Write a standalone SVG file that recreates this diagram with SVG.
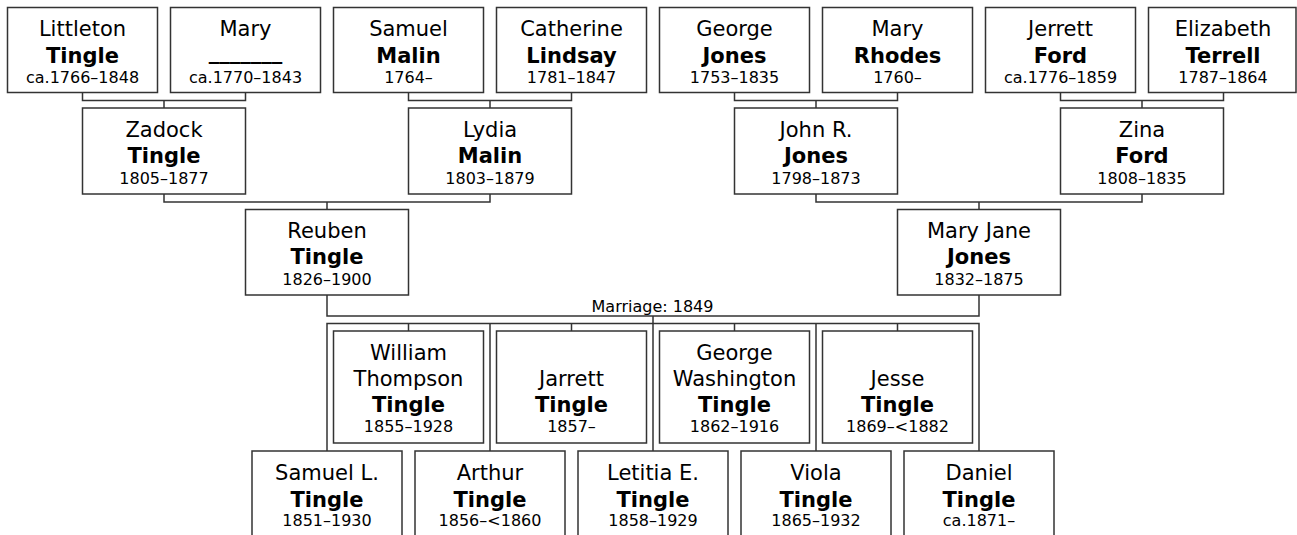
<svg xmlns="http://www.w3.org/2000/svg" width="1297" height="535" viewBox="0 0 1297 535">
<style>
.box{fill:#fff;stroke:#333;stroke-width:1.5}
.ln{fill:none;stroke:#333;stroke-width:1.5}
text{font-family:"DejaVu Sans","Verdana",sans-serif;fill:#000;text-anchor:middle}
.n{font-size:21px}
.s{font-size:21px;font-weight:bold}
.d{font-size:16px}
.m{font-size:16px}
</style>
<rect width="1297" height="535" fill="#fff"/>
<g id="connectors">
<path class="ln" d="M82.5 92.5V100.5H245.5V92.5M164 100.5V108"/>
<path class="ln" d="M408.5 92.5V100.5H571.5V92.5M490 100.5V108"/>
<path class="ln" d="M734.5 92.5V100.5H897.5V92.5M816 100.5V108"/>
<path class="ln" d="M1060.5 92.5V100.5H1223.5V92.5M1142 100.5V108"/>
<path class="ln" d="M164 194V202H490V194M327 202V209.5"/>
<path class="ln" d="M816 194V202H1142V194M979 202V209.5"/>
<path class="ln" d="M327 295V316H979V295M653 316V451"/>
<path class="ln" d="M327 451V323.5H979V451M490 323.5V451M816 323.5V451"/>
<path class="ln" d="M408.5 323.5V331M571.5 323.5V331M734.5 323.5V331M897.5 323.5V331"/>
<text class="m" x="652.5" y="311.5">Marriage: 1849</text>
</g>
<g id="littleton"><rect class="box" x="7.5" y="7.5" width="150" height="85"/><text class="n" x="82.5" y="36">Littleton</text><text class="s" x="82.5" y="62.5">Tingle</text><text class="d" x="82.5" y="82.5">ca.1766–1848</text></g>
<g id="mary"><rect class="box" x="170.5" y="7.5" width="150" height="85"/><text class="n" x="245.5" y="36">Mary</text><text class="s" x="245.5" y="59">_______</text><text class="d" x="245.5" y="82.5">ca.1770–1843</text></g>
<g id="samuel"><rect class="box" x="333.5" y="7.5" width="150" height="85"/><text class="n" x="408.5" y="36">Samuel</text><text class="s" x="408.5" y="62.5">Malin</text><text class="d" x="408.5" y="82.5">1764–</text></g>
<g id="catherine"><rect class="box" x="496.5" y="7.5" width="150" height="85"/><text class="n" x="571.5" y="36">Catherine</text><text class="s" x="571.5" y="62.5">Lindsay</text><text class="d" x="571.5" y="82.5">1781–1847</text></g>
<g id="george"><rect class="box" x="659.5" y="7.5" width="150" height="85"/><text class="n" x="734.5" y="36">George</text><text class="s" x="734.5" y="62.5">Jones</text><text class="d" x="734.5" y="82.5">1753–1835</text></g>
<g id="mary-rhodes"><rect class="box" x="822.5" y="7.5" width="150" height="85"/><text class="n" x="897.5" y="36">Mary</text><text class="s" x="897.5" y="62.5">Rhodes</text><text class="d" x="897.5" y="82.5">1760–</text></g>
<g id="jerrett"><rect class="box" x="985.5" y="7.5" width="150" height="85"/><text class="n" x="1060.5" y="36">Jerrett</text><text class="s" x="1060.5" y="62.5">Ford</text><text class="d" x="1060.5" y="82.5">ca.1776–1859</text></g>
<g id="elizabeth"><rect class="box" x="1148.5" y="7.5" width="147.5" height="85"/><text class="n" x="1223" y="36">Elizabeth</text><text class="s" x="1223" y="62.5">Terrell</text><text class="d" x="1223" y="82.5">1787–1864</text></g>
<g id="zadock"><rect class="box" x="82.5" y="108" width="163" height="86"/><text class="n" x="164" y="137">Zadock</text><text class="s" x="164" y="163">Tingle</text><text class="d" x="164" y="184">1805–1877</text></g>
<g id="lydia"><rect class="box" x="408.5" y="108" width="163" height="86"/><text class="n" x="490" y="137">Lydia</text><text class="s" x="490" y="163">Malin</text><text class="d" x="490" y="184">1803–1879</text></g>
<g id="john"><rect class="box" x="734.5" y="108" width="163" height="86"/><text class="n" x="816" y="137">John R.</text><text class="s" x="816" y="163">Jones</text><text class="d" x="816" y="184">1798–1873</text></g>
<g id="zina"><rect class="box" x="1060.5" y="108" width="163" height="86"/><text class="n" x="1142" y="137">Zina</text><text class="s" x="1142" y="163">Ford</text><text class="d" x="1142" y="184">1808–1835</text></g>
<g id="reuben"><rect class="box" x="245.5" y="209.5" width="163" height="85.5"/><text class="n" x="327" y="237.5">Reuben</text><text class="s" x="327" y="263.5">Tingle</text><text class="d" x="327" y="284.5">1826–1900</text></g>
<g id="mary-jane"><rect class="box" x="897.5" y="209.5" width="163" height="85.5"/><text class="n" x="979" y="237.5">Mary Jane</text><text class="s" x="979" y="263.5">Jones</text><text class="d" x="979" y="284.5">1832–1875</text></g>
<g id="william"><rect class="box" x="333.5" y="331" width="150" height="112"/><text class="n" x="408.5" y="360">William</text><text class="n" x="408.5" y="386">Thompson</text><text class="s" x="408.5" y="411.5">Tingle</text><text class="d" x="408.5" y="431.5">1855–1928</text></g>
<g id="jarrett"><rect class="box" x="496.5" y="331" width="150" height="112"/><text class="n" x="571.5" y="386">Jarrett</text><text class="s" x="571.5" y="411.5">Tingle</text><text class="d" x="571.5" y="431.5">1857–</text></g>
<g id="george-washington"><rect class="box" x="659.5" y="331" width="150" height="112"/><text class="n" x="734.5" y="360">George</text><text class="n" x="734.5" y="386">Washington</text><text class="s" x="734.5" y="411.5">Tingle</text><text class="d" x="734.5" y="431.5">1862–1916</text></g>
<g id="jesse"><rect class="box" x="822.5" y="331" width="150" height="112"/><text class="n" x="897.5" y="386">Jesse</text><text class="s" x="897.5" y="411.5">Tingle</text><text class="d" x="897.5" y="431.5">1869–&lt;1882</text></g>
<g id="samuel-l"><rect class="box" x="252" y="451" width="150" height="86"/><text class="n" x="327" y="480">Samuel L.</text><text class="s" x="327" y="506.5">Tingle</text><text class="d" x="327" y="526">1851–1930</text></g>
<g id="arthur"><rect class="box" x="415" y="451" width="150" height="86"/><text class="n" x="490" y="480">Arthur</text><text class="s" x="490" y="506.5">Tingle</text><text class="d" x="490" y="526">1856–&lt;1860</text></g>
<g id="letitia"><rect class="box" x="578" y="451" width="150" height="86"/><text class="n" x="653" y="480">Letitia E.</text><text class="s" x="653" y="506.5">Tingle</text><text class="d" x="653" y="526">1858–1929</text></g>
<g id="viola"><rect class="box" x="741" y="451" width="150" height="86"/><text class="n" x="816" y="480">Viola</text><text class="s" x="816" y="506.5">Tingle</text><text class="d" x="816" y="526">1865–1932</text></g>
<g id="daniel"><rect class="box" x="904" y="451" width="150" height="86"/><text class="n" x="979" y="480">Daniel</text><text class="s" x="979" y="506.5">Tingle</text><text class="d" x="979" y="526">ca.1871–</text></g>
</svg>
